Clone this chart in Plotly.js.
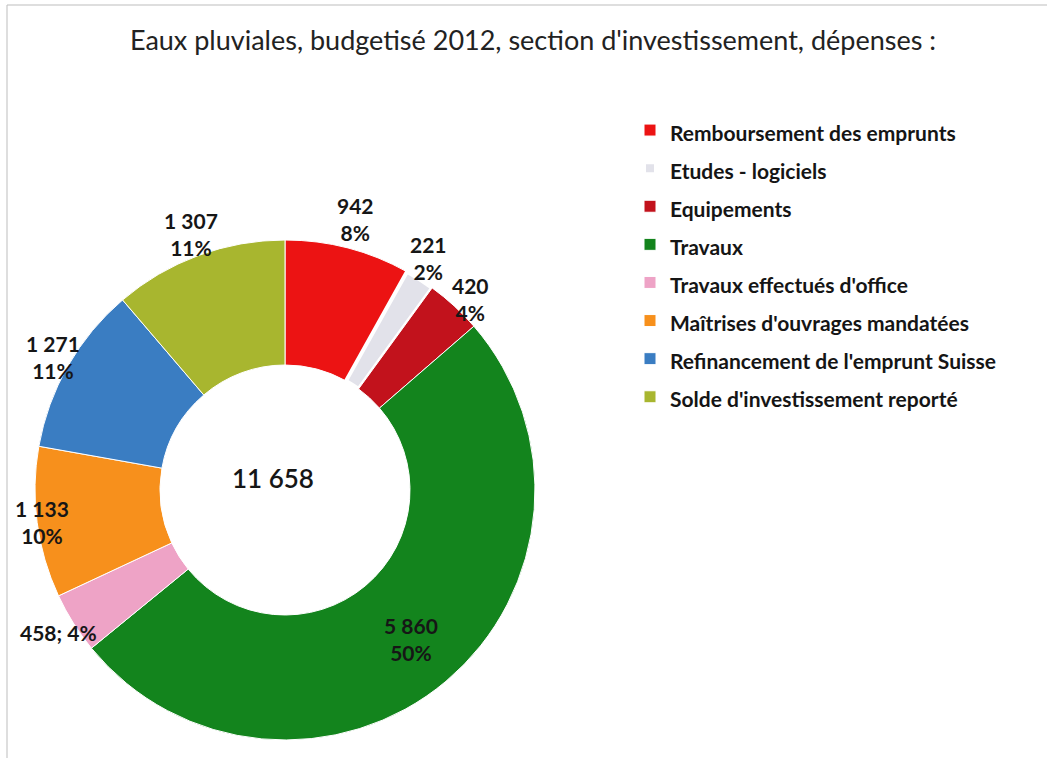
<!DOCTYPE html>
<html>
<head>
<meta charset="utf-8">
<script src="https://cdn.plot.ly/plotly-3.0.1.min.js"></script>
<style>html,body{margin:0;padding:0;background:#fff;}#chart{width:1047px;height:758px;}</style>
</head>
<body>
<div id="chart"></div>
<script>
// ---- data ----
const categories = [
  "Remboursement des emprunts",
  "Etudes - logiciels",
  "Equipements",
  "Travaux",
  "Travaux effectués d'office",
  "Maîtrises d'ouvrages mandatées",
  "Refinancement de l'emprunt Suisse",
  "Solde d'investissement reporté"
];
const values = [942, 221, 420, 5860, 458, 1133, 1271, 1307];
const totalLabel = "11 658";
const titleText = "Eaux pluviales, budgetisé 2012, section d'investissement, dépenses :";

// ---- styles ----
const colors = ["#ec1313", "#e2e2ea", "#c2121c", "#13841d", "#eea3c6", "#f7901c", "#3a7dc2", "#a8b62f"];
const lineWidths = [1, 4, 1, 1, 1, 1, 1, 1];
const labelRadius = [1.12, 1.09, 1.065, 0.78, 1.07, 0.98, 1.07, 1.09];
const labelAngleShift = [0, -0.8, 1.5, 0, 0, 0, 0, 0];
const labelSep = ["<br>", "<br>", "<br>", "<br>", "; ", "<br>", "<br>", "<br>"];

const W = 1047, H = 758;
const cx = 285, cy = 490, R = 250;

function fmt(n) {
  return String(n).replace(/\B(?=(\d{3})+(?!\d))/g, " ");
}

const sum = values.reduce((a, b) => a + b, 0);
const annotations = [];
let cum = 0;
values.forEach((v, i) => {
  const mid = (cum + v / 2) / sum * 2 * Math.PI + labelAngleShift[i] * Math.PI / 180;
  cum += v;
  const r = labelRadius[i] * R;
  const px = cx + r * Math.sin(mid);
  const py = cy - r * Math.cos(mid);
  const pct = Math.round(v / sum * 100);
  annotations.push({
    x: px / W, y: 1 - py / H, xref: "paper", yref: "paper",
    xanchor: "center", yanchor: "middle", showarrow: false,
    text: fmt(v) + labelSep[i] + pct + "%",
    font: {family: "Lato, sans-serif", size: 21, color: "#161616", weight: "bold"}
  });
});
annotations.push({
  x: 273 / W, y: 1 - 478 / H, xref: "paper", yref: "paper",
  xanchor: "center", yanchor: "middle", showarrow: false,
  text: totalLabel,
  font: {family: "Lato, sans-serif", size: 26, color: "#161616", weight: 600}
});

const legendLabels = categories.map(c => '<span style="font-size:21px">' + c + '</span>');

const trace = {
  type: "pie",
  labels: legendLabels,
  values: values,
  hole: 0.5,
  sort: false,
  direction: "clockwise",
  rotation: 0,
  textinfo: "none",
  marker: {colors: colors, line: {color: "#ffffff", width: lineWidths}},
  domain: {x: [(cx - R) / W, (cx + R) / W], y: [1 - (cy + R) / H, 1 - (cy - R) / H]},
  hoverinfo: "value+percent"
};

const layout = {
  width: W, height: H,
  margin: {l: 0, r: 0, t: 0, b: 0},
  paper_bgcolor: "#ffffff",
  title: {
    text: titleText, x: 533 / W, xanchor: "center", y: 1 - 41 / H, yanchor: "middle",
    font: {family: "Lato, sans-serif", size: 27, color: "#222222"}
  },
  showlegend: true,
  legend: {
    x: 630 / W, xanchor: "left", y: 1 - 106 / H, yanchor: "top",
    font: {family: "Lato, sans-serif", size: 27, color: "#151515", weight: "bold"},
    bgcolor: "rgba(0,0,0,0)", itemclick: false
  },
  annotations: annotations,
  shapes: [
    {type: "line", xref: "paper", yref: "paper", x0: 7 / W, x1: 7 / W, y0: 0, y1: 1 - 5 / H, line: {color: "#bdbdbd", width: 1}},
    {type: "line", xref: "paper", yref: "paper", x0: 7 / W, x1: 1, y0: 1 - 5 / H, y1: 1 - 5 / H, line: {color: "#bdbdbd", width: 1}}
  ]
};

Plotly.newPlot("chart", [trace], layout, {displayModeBar: false, staticPlot: true});
</script>
</body>
</html>
